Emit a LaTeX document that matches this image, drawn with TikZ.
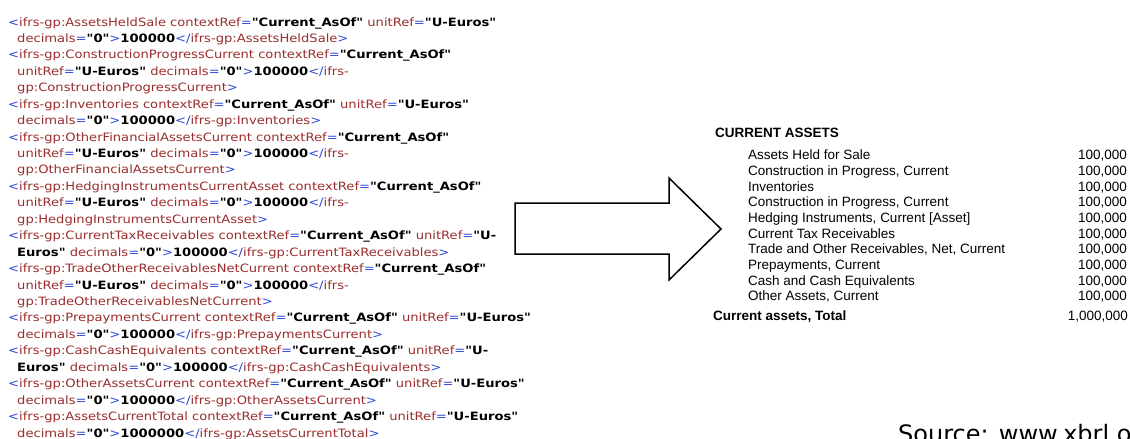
\documentclass[tikz,border=0pt]{standalone}
\usepackage{fontspec}
\newfontfamily\xmlfont{DejaVu Sans}[FakeStretch=1.14]
\newfontfamily\arialfont{Liberation Sans}
\newfontfamily\srcfont{DejaVu Sans}
\usetikzlibrary{calc}
\definecolor{mk}{RGB}{45,70,215}
\definecolor{tg}{RGB}{155,45,45}
\newcommand\Mk[1]{\textcolor{mk}{#1}}
\newcommand\Tg[1]{\textcolor{tg}{#1}}
\newcommand\Att[2]{\Tg{#1}\Mk{=}\textbf{"#2"}}
\newcommand\op{\Mk{<}}
\newcommand\cl{\Mk{>}}
\newcommand\ec{\Mk{</}}
\newcommand\hundk{\textbf{100000}}
\tikzset{
  xml/.style={anchor=base west, inner sep=0pt, font=\xmlfont\fontsize{11.5}{14}\selectfont},
  item/.style={anchor=base west, inner sep=0pt, font=\arialfont\fontsize{13.5}{15}\selectfont},
  itembold/.style={item, font=\arialfont\bfseries\fontsize{13.5}{15}\selectfont},
  amount/.style={anchor=base east, inner sep=0pt, font=\arialfont\fontsize{13.5}{15}\selectfont},
  bigarrow/.style={draw=black, line width=1.5pt, line join=miter, fill=white},
}
\begin{document}
\begin{tikzpicture}[x=1pt,y=-1pt]
\useasboundingbox (0,0) rectangle (1130,439);
\clip (0,0) rectangle (1130,439);
\fill[white] (0,0) rectangle (1130,439);
% XML listing
\def\la{8}\def\lb{17}\def\dy{16.44}
\node[xml] (x1) at (\la,26+0*\dy) {\op\Tg{ifrs-gp:AssetsHeldSale} \Att{contextRef}{Current\_AsOf} \Att{unitRef}{U-Euros}};
\node[xml] (x2) at (\lb,26+1*\dy) {\Att{decimals}{0}\cl\hundk\ec\Tg{ifrs-gp:AssetsHeldSale}\cl};
\node[xml] (x3) at (\la,26+2*\dy) {\op\Tg{ifrs-gp:ConstructionProgressCurrent} \Att{contextRef}{Current\_AsOf}};
\node[xml] (x4) at (\lb,26+3*\dy) {\Att{unitRef}{U-Euros} \Att{decimals}{0}\cl\hundk\ec\Tg{ifrs-}};
\node[xml] (x5) at (\lb,26+4*\dy) {\Tg{gp:ConstructionProgressCurrent}\cl};
\node[xml] (x6) at (\la,26+5*\dy) {\op\Tg{ifrs-gp:Inventories} \Att{contextRef}{Current\_AsOf} \Att{unitRef}{U-Euros}};
\node[xml] (x7) at (\lb,26+6*\dy) {\Att{decimals}{0}\cl\hundk\ec\Tg{ifrs-gp:Inventories}\cl};
\node[xml] (x8) at (\la,26+7*\dy) {\op\Tg{ifrs-gp:OtherFinancialAssetsCurrent} \Att{contextRef}{Current\_AsOf}};
\node[xml] (x9) at (\lb,26+8*\dy) {\Att{unitRef}{U-Euros} \Att{decimals}{0}\cl\hundk\ec\Tg{ifrs-}};
\node[xml] (x10) at (\lb,26+9*\dy) {\Tg{gp:OtherFinancialAssetsCurrent}\cl};
\node[xml] (x11) at (\la,26+10*\dy) {\op\Tg{ifrs-gp:HedgingInstrumentsCurrentAsset} \Att{contextRef}{Current\_AsOf}};
\node[xml] (x12) at (\lb,26+11*\dy) {\Att{unitRef}{U-Euros} \Att{decimals}{0}\cl\hundk\ec\Tg{ifrs-}};
\node[xml] (x13) at (\lb,26+12*\dy) {\Tg{gp:HedgingInstrumentsCurrentAsset}\cl};
\node[xml] (x14) at (\la,26+13*\dy) {\op\Tg{ifrs-gp:CurrentTaxReceivables} \Att{contextRef}{Current\_AsOf} \Tg{unitRef}\Mk{=}\textbf{"U-}};
\node[xml] (x15) at (\lb,26+14*\dy) {\textbf{Euros"} \Att{decimals}{0}\cl\hundk\ec\Tg{ifrs-gp:CurrentTaxReceivables}\cl};
\node[xml] (x16) at (\la,26+15*\dy) {\op\Tg{ifrs-gp:TradeOtherReceivablesNetCurrent} \Att{contextRef}{Current\_AsOf}};
\node[xml] (x17) at (\lb,26+16*\dy) {\Att{unitRef}{U-Euros} \Att{decimals}{0}\cl\hundk\ec\Tg{ifrs-}};
\node[xml] (x18) at (\lb,26+17*\dy) {\Tg{gp:TradeOtherReceivablesNetCurrent}\cl};
\node[xml] (x19) at (\la,26+18*\dy) {\op\Tg{ifrs-gp:PrepaymentsCurrent} \Att{contextRef}{Current\_AsOf} \Att{unitRef}{U-Euros}};
\node[xml] (x20) at (\lb,26+19*\dy) {\Att{decimals}{0}\cl\hundk\ec\Tg{ifrs-gp:PrepaymentsCurrent}\cl};
\node[xml] (x21) at (\la,26+20*\dy) {\op\Tg{ifrs-gp:CashCashEquivalents} \Att{contextRef}{Current\_AsOf} \Tg{unitRef}\Mk{=}\textbf{"U-}};
\node[xml] (x22) at (\lb,26+21*\dy) {\textbf{Euros"} \Att{decimals}{0}\cl\hundk\ec\Tg{ifrs-gp:CashCashEquivalents}\cl};
\node[xml] (x23) at (\la,26+22*\dy) {\op\Tg{ifrs-gp:OtherAssetsCurrent} \Att{contextRef}{Current\_AsOf} \Att{unitRef}{U-Euros}};
\node[xml] (x24) at (\lb,26+23*\dy) {\Att{decimals}{0}\cl\hundk\ec\Tg{ifrs-gp:OtherAssetsCurrent}\cl};
\node[xml] (x25) at (\la,26+24*\dy) {\op\Tg{ifrs-gp:AssetsCurrentTotal} \Att{contextRef}{Current\_AsOf} \Att{unitRef}{U-Euros}};
\node[xml] (x26) at (\lb,26+25*\dy) {\Att{decimals}{0}\cl\textbf{1000000}\ec\Tg{ifrs-gp:AssetsCurrentTotal}\cl};
% Big arrow
\draw[bigarrow] (515,203) -- (669,203) -- (669,178) -- (721,229) -- (669,280) -- (669,254) -- (515,254) -- cycle;
% Balance sheet
\node[itembold] (hd) at (715,137.5) {CURRENT ASSETS};
\def\ia{748}\def\ib{1127}\def\iy{159.7}\def\idy{15.67}
\node[item] (i1) at (\ia,\iy+0*\idy) {Assets Held for Sale};
\node[item] (i2) at (\ia,\iy+1*\idy) {Construction in Progress, Current};
\node[item] (i3) at (\ia,\iy+2*\idy) {Inventories};
\node[item] (i4) at (\ia,\iy+3*\idy) {Construction in Progress, Current};
\node[item] (i5) at (\ia,\iy+4*\idy) {Hedging Instruments, Current [Asset]};
\node[item] (i6) at (\ia,\iy+5*\idy) {Current Tax Receivables};
\node[item] (i7) at (\ia,\iy+6*\idy) {Trade and Other Receivables, Net, Current};
\node[item] (i8) at (\ia,\iy+7*\idy) {Prepayments, Current};
\node[item] (i9) at (\ia,\iy+8*\idy) {Cash and Cash Equivalents};
\node[item] (i10) at (\ia,\iy+9*\idy) {Other Assets, Current};
\foreach \k in {0,...,9} {
  \node[amount] (v\k) at (\ib,\iy+\k*\idy) {100,000};
}
\node[itembold] (tot) at (713,320) {Current assets, Total};
\node[amount] (vt) at (1128,320) {1,000,000};
% Source
\node[anchor=base west, inner sep=0pt, font=\srcfont\fontsize{24}{27}\selectfont] (src) at (898,442.5) {Source: www.xbrl.o};
\end{tikzpicture}
\end{document}
